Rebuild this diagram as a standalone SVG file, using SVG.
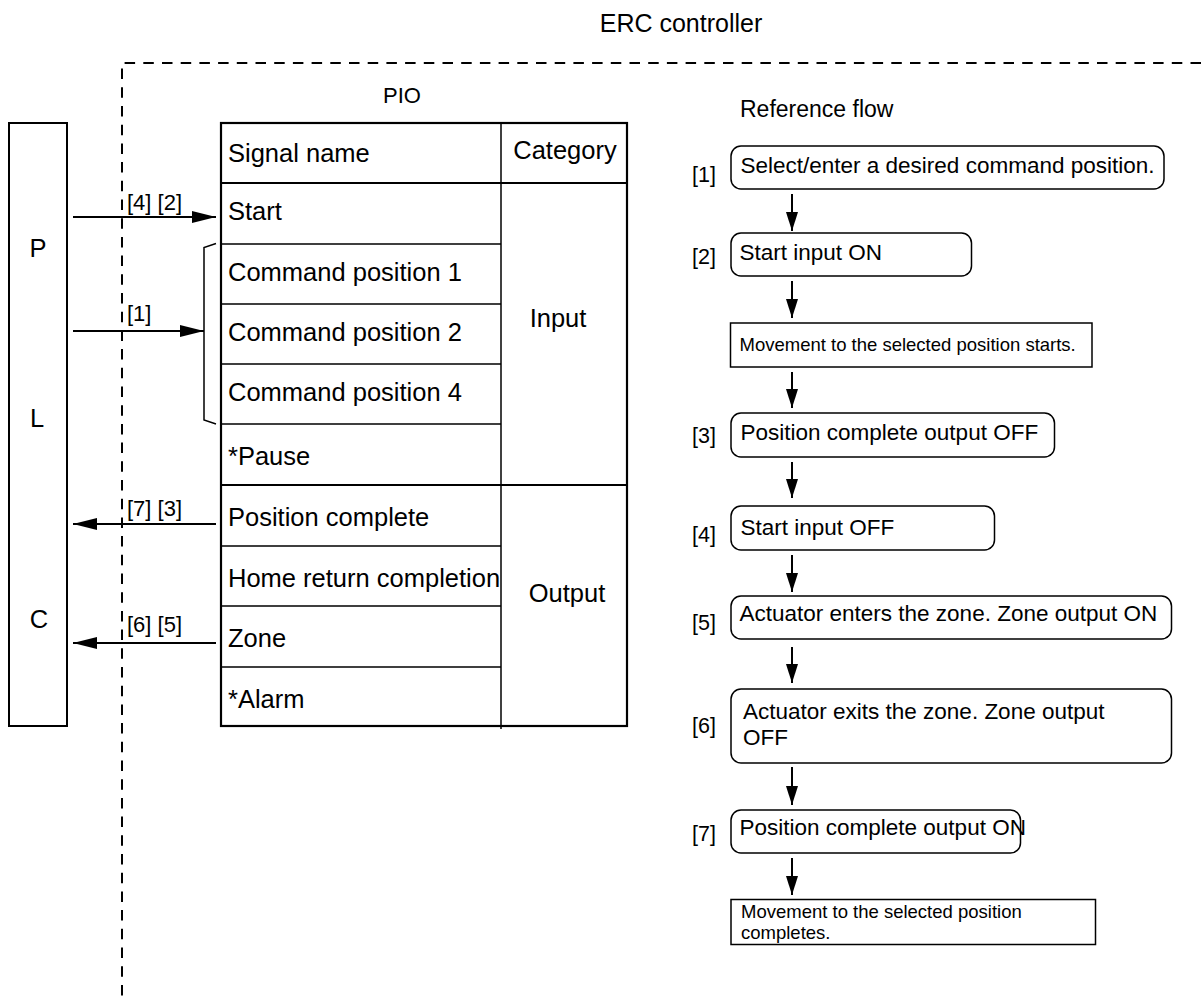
<svg xmlns="http://www.w3.org/2000/svg" width="1201" height="998" viewBox="0 0 1201 998">
<style>
text{font-family:"Liberation Sans",Arial,sans-serif;fill:#000}
.t{font-size:25.5px}
.lbl{font-size:22px}
.fl{font-size:22.5px}
.fn{font-size:21.5px}
.sm{font-size:18.5px}
.box{fill:#fff;stroke:#000;stroke-width:1.5}
.ln{stroke:#000;stroke-width:1.5;fill:none}
.arr{stroke:#000;stroke-width:2;fill:none}
.dash{stroke:#000;stroke-width:2;fill:none;stroke-dasharray:10.5 8.2}
</style>
<defs>
<marker id="ah" markerUnits="userSpaceOnUse" markerWidth="24" markerHeight="12" refX="24" refY="6" orient="auto">
<path d="M0,0 L24,6 L0,12 z" fill="#000"/>
</marker>
<marker id="av" markerUnits="userSpaceOnUse" markerWidth="19" markerHeight="12" refX="19" refY="6" orient="auto">
<path d="M0,0 L19,6 L0,12 z" fill="#000"/>
</marker>
</defs>
<rect width="1201" height="998" fill="#fff"/>

<g id="controller-boundary">
<path class="dash" d="M1201,63 H122 V998"/>
<text x="681" y="32" text-anchor="middle" style="font-size:25px">ERC controller</text>
</g>

<g id="plc">
<rect x="9" y="123" width="58" height="603" fill="#fff" stroke="#000" stroke-width="2"/>
<text x="38" y="257" class="t" text-anchor="middle">P</text>
<text x="37" y="427" class="t" text-anchor="middle">L</text>
<text x="39" y="628" class="t" text-anchor="middle">C</text>
</g>

<g id="pio-table">
<text x="402" y="103" class="lbl" text-anchor="middle">PIO</text>
<rect x="221" y="123" width="406" height="603" fill="#fff" stroke="#000" stroke-width="2.2"/>
<path class="ln" d="M221,183 H627 M221,485 H627" style="stroke-width:2"/>
<path class="ln" d="M221,244 H501 M221,304 H501 M221,364 H501 M221,424 H501 M221,546 H501 M221,606 H501 M221,667 H501"/>
<path class="ln" d="M501,123 V729"/>
<text x="228" y="162" class="t">Signal name</text>
<text x="565" y="159" class="t" text-anchor="middle">Category</text>
<text x="228" y="220" class="t">Start</text>
<text x="228" y="281" class="t">Command position 1</text>
<text x="228" y="341" class="t">Command position 2</text>
<text x="228" y="401" class="t">Command position 4</text>
<text x="228" y="465" class="t">*Pause</text>
<text x="228" y="526" class="t">Position complete</text>
<text x="228" y="587" class="t">Home return completion</text>
<text x="228" y="647" class="t">Zone</text>
<text x="228" y="708" class="t">*Alarm</text>
<text x="558" y="327" class="t" text-anchor="middle">Input</text>
<text x="567" y="602" class="t" text-anchor="middle">Output</text>
</g>

<g id="connectors">
<path class="ln" d="M216,243.5 L204,247.5 V420 L216,424"/>
<line class="arr" x1="73" y1="217" x2="216" y2="217" marker-end="url(#ah)"/>
<line class="arr" x1="73" y1="331" x2="204" y2="331" marker-end="url(#ah)"/>
<line class="arr" x1="216" y1="524" x2="73" y2="524" marker-end="url(#ah)"/>
<line class="arr" x1="216" y1="643" x2="73" y2="643" marker-end="url(#ah)"/>
<text x="127" y="210" class="lbl">[4] [2]</text>
<text x="127" y="321" class="lbl">[1]</text>
<text x="127" y="516" class="lbl">[7] [3]</text>
<text x="127" y="632" class="lbl">[6] [5]</text>
<line class="arr" x1="792" y1="194" x2="792" y2="231" marker-end="url(#av)"/>
<line class="arr" x1="792" y1="281" x2="792" y2="318" marker-end="url(#av)"/>
<line class="arr" x1="792" y1="372" x2="792" y2="408" marker-end="url(#av)"/>
<line class="arr" x1="792" y1="462" x2="792" y2="498" marker-end="url(#av)"/>
<line class="arr" x1="792" y1="555" x2="792" y2="592" marker-end="url(#av)"/>
<line class="arr" x1="792" y1="647" x2="792" y2="683" marker-end="url(#av)"/>
<line class="arr" x1="792" y1="767" x2="792" y2="805" marker-end="url(#av)"/>
<line class="arr" x1="792" y1="858" x2="792" y2="895" marker-end="url(#av)"/>
</g>

<g id="reference-flow-title">
<text x="740" y="117" style="font-size:23px">Reference flow</text>
</g>

<g id="step1">
<text x="692" y="182" class="fn">[1]</text>
<rect class="box" x="731" y="146" width="433" height="43" rx="10"/>
<text x="740.5" y="173" class="fl">Select/enter a desired command position.</text>
</g>
<g id="step2">
<text x="692" y="264" class="fn">[2]</text>
<rect class="box" x="731" y="233" width="240.5" height="43" rx="10"/>
<text x="739.5" y="260" class="fl">Start input ON</text>
</g>
<g id="move-start">
<rect class="box" x="730.5" y="323" width="361.5" height="44"/>
<text x="739.5" y="351" class="sm">Movement to the selected position starts.</text>
</g>
<g id="step3">
<text x="692" y="443" class="fn">[3]</text>
<rect class="box" x="731" y="413" width="323.5" height="44" rx="10"/>
<text x="740.5" y="440" class="fl">Position complete output OFF</text>
</g>
<g id="step4">
<text x="692" y="542" class="fn">[4]</text>
<rect class="box" x="731" y="506" width="263.5" height="44" rx="10"/>
<text x="740.5" y="535" class="fl">Start input OFF</text>
</g>
<g id="step5">
<text x="692" y="630" class="fn">[5]</text>
<rect class="box" x="731" y="596" width="440.5" height="43" rx="10"/>
<text x="739.5" y="621" class="fl">Actuator enters the zone. Zone output ON</text>
</g>
<g id="step6">
<text x="692" y="733" class="fn">[6]</text>
<rect class="box" x="731" y="689" width="440.5" height="74" rx="10"/>
<text x="743" y="719" class="fl">Actuator exits the zone. Zone output</text>
<text x="743" y="745" class="fl">OFF</text>
</g>
<g id="step7">
<text x="692" y="841" class="fn">[7]</text>
<rect class="box" x="731" y="810" width="289.5" height="43" rx="10"/>
<text x="739.5" y="835" class="fl">Position complete output ON</text>
</g>
<g id="move-complete">
<rect class="box" x="731" y="899.5" width="364.5" height="45"/>
<text x="741" y="918" class="sm">Movement to the selected position</text>
<text x="741" y="939" class="sm">completes.</text>
</g>
</svg>
